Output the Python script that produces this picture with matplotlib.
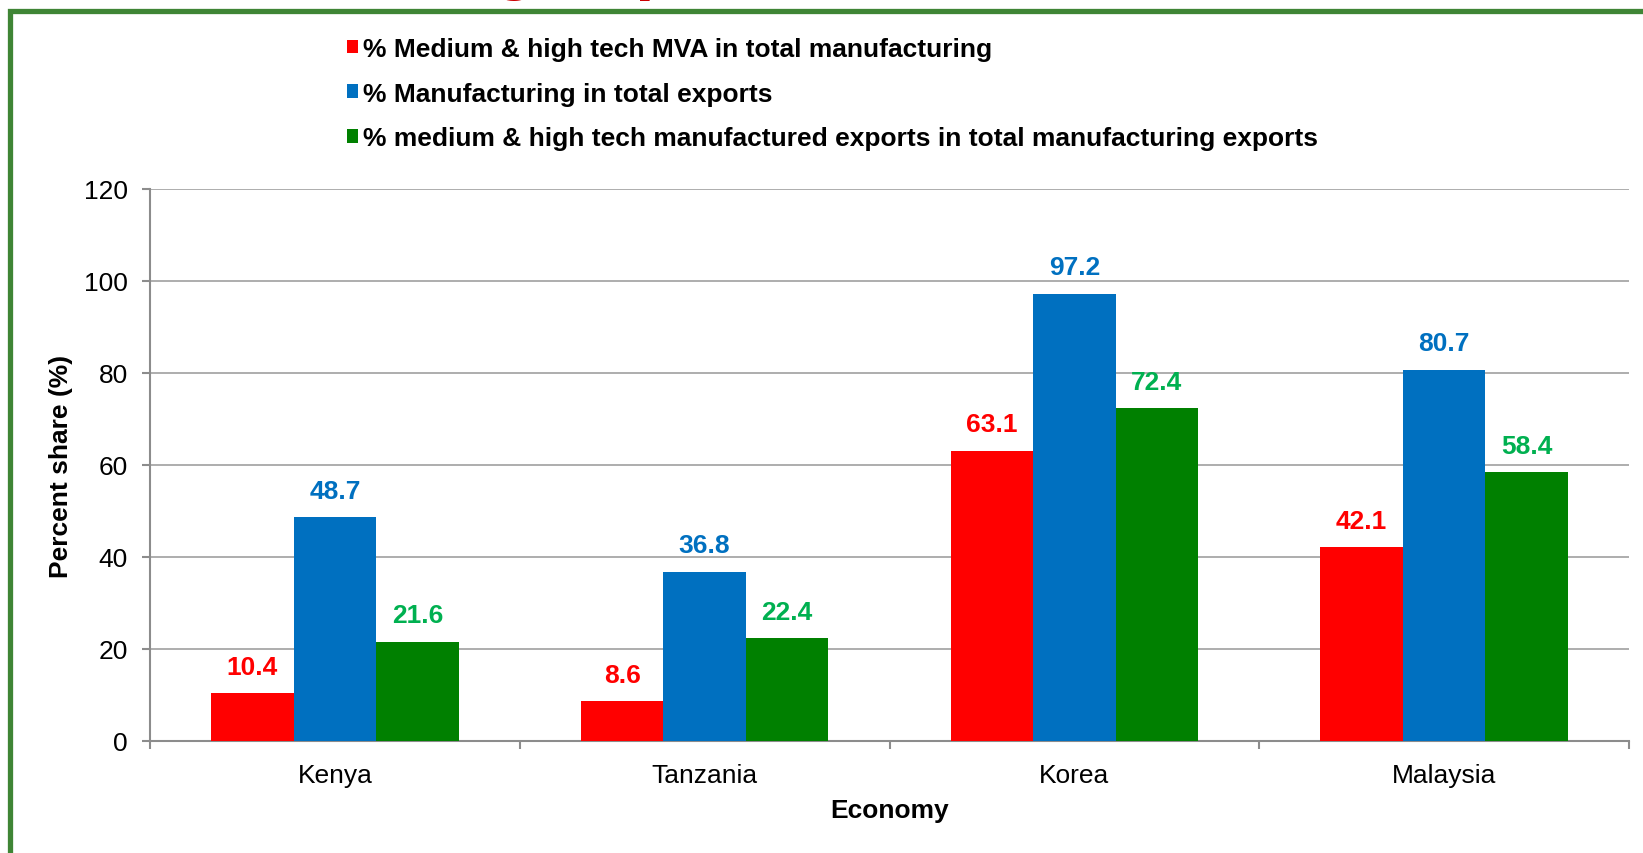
import numpy as np
import matplotlib
matplotlib.use('Agg')
import matplotlib.pyplot as plt
from matplotlib.patches import Rectangle

plt.rcParams['font.family'] = ['Liberation Sans', 'DejaVu Sans']

## Data
economies = ['Kenya', 'Tanzania', 'Korea', 'Malaysia']
mva_share = [10.4, 8.6, 63.1, 42.1]
manuf_exports = [48.7, 36.8, 97.2, 80.7]
tech_exports = [21.6, 22.4, 72.4, 58.4]
series_names = ['% Medium & high tech MVA in total manufacturing',
                '% Manufacturing in total exports',
                '% medium & high tech manufactured exports in total manufacturing exports']
bar_colors = ['#FF0000', '#0070C0', '#008000']
label_colors = ['#FF0000', '#0070C0', '#00B050']

fig = plt.figure(figsize=(16.43, 8.54), dpi=100)
W, H = 1643., 854.
ax = fig.add_axes([150/W, 1 - 742/H, (1629-150)/W, (742-190)/H])

x = np.arange(len(economies))
bw = 0.223
for i, vals in enumerate([mva_share, manuf_exports, tech_exports]):
   pos = x + (i - 1)*bw
   ax.bar(pos, vals, width=bw, color=bar_colors[i], label=series_names[i], zorder=3)
   for px, v in zip(pos, vals):
      ax.annotate('%.1f' % v, (px, v), xytext=(0, 14), textcoords='offset points',
                  ha='center', va='baseline', fontsize=19, fontweight='bold', color=label_colors[i])

ax.set_xlim(-0.5, 3.5)
ax.set_ylim(0, 120)
ax.set_yticks(np.arange(0, 121, 20))
ax.yaxis.grid(True, color='#A0A0A0', linewidth=1.2, zorder=0)
ax.set_axisbelow(True)
ax.set_xticks(x)
ax.set_xticklabels(economies)
ax.set_xticks(np.arange(-0.5, 3.6, 1), minor=True)
ax.tick_params(axis='x', which='major', length=0, pad=16, labelsize=19)
ax.tick_params(axis='x', which='minor', length=6, width=1.5, color='#8C8C8C', direction='out')
ax.tick_params(axis='y', length=6, width=1.5, color='#8C8C8C', pad=10, labelsize=19)
for s in ['top', 'right']:
   ax.spines[s].set_visible(False)
for s in ['left', 'bottom']:
   ax.spines[s].set_color('#8C8C8C')
   ax.spines[s].set_linewidth(1.5)

ax.set_ylabel('Percent share (%)', fontsize=19, fontweight='bold', labelpad=8)
ax.set_xlabel('Economy', fontsize=19, fontweight='bold', labelpad=8)

leg = ax.legend(loc='upper left', bbox_to_anchor=(347/W, 1 - 38/H), bbox_transform=fig.transFigure,
                frameon=False, prop={'size': 19, 'weight': 'bold'}, handlelength=0.42, handleheight=0.42,
                handletextpad=0.2, labelspacing=0.78, borderpad=0, borderaxespad=0)

## green slide frame and clipped red title
fig.patches.append(Rectangle((10/W, -0.1), 1.2, 1 - 12/H + 0.1, transform=fig.transFigure,
                             fill=False, edgecolor='#3F8535', linewidth=3.8, clip_on=False))
fig.text(48/W, 1 + 14/H, 'Manufacturing exports', color='#CC0000', fontsize=51,
         fontweight='bold', ha='left', va='baseline')

fig.savefig('out.png', dpi=100)
